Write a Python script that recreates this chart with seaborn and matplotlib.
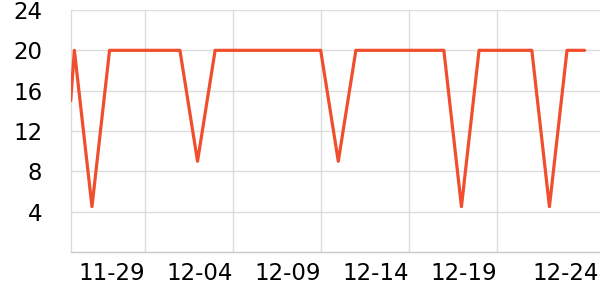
import matplotlib
matplotlib.use("Agg")
import matplotlib.pyplot as plt
import matplotlib.transforms as mtransforms
import pandas as pd
import seaborn as sns

# ---- data ----
timestamps = ["2023-11-24 19:00"] + [d.strftime("%Y-%m-%d 00:00") for d in pd.date_range("2023-11-25", "2023-12-24", freq="D")]
values = [15, 20, 4.5, 20, 20, 20, 20, 20, 9, 20, 20, 20, 20, 20, 20, 20, 9, 20,
          20, 20, 20, 20, 20, 4.5, 20, 20, 20, 20, 4.5, 20, 20]
tick_dates = ["2023-11-29", "2023-12-04", "2023-12-09", "2023-12-14", "2023-12-19", "2023-12-24"]
tick_labels = ["11-29", "12-04", "12-09", "12-14", "12-19", "12-24"]
y_ticks = [4, 8, 12, 16, 20, 24]
x_end = "2023-12-24 21:00"

df = pd.DataFrame({"time": pd.to_datetime(timestamps, format="%Y-%m-%d %H:%M"), "value": values})

sns.set_style("white")
plt.rcParams["font.family"] = ["DejaVu Sans"]

fig = plt.figure(figsize=(6, 3), dpi=100)
ax = fig.add_axes([70.7 / 600, 48 / 300, (600 - 70.7) / 600, (252 - 10) / 300])

sns.lineplot(data=df, x="time", y="value", ax=ax, color="#f04e2d", linewidth=2.3, zorder=3)

ax.set_xlim(df["time"].iloc[0], pd.Timestamp(x_end))
ax.set_ylim(0, 24)
ax.set_yticks(y_ticks)
ax.set_xticks(pd.to_datetime(tick_dates))
ax.set_xticklabels(tick_labels, ha="right")
ax.set_xlabel("")
ax.set_ylabel("")

ax.grid(True, color="#dcdcdc", linewidth=1.0)
ax.set_axisbelow(True)
for side in ["top", "right"]:
    ax.spines[side].set_visible(False)
ax.spines["left"].set_color("#dcdcdc")
ax.spines["bottom"].set_color("#c8c8c8")
ax.spines["left"].set_linewidth(1.0)
ax.spines["bottom"].set_linewidth(1.0)

ax.tick_params(axis="y", length=0, pad=20.5, labelsize=16.5, labelcolor="black")
ax.tick_params(axis="x", length=2.5, width=1, color="#c8c8c8", pad=5, labelsize=16.5, labelcolor="black")

# last tick: no gridline/tick mark, label pushed to canvas edge
last = ax.xaxis.get_major_ticks()[-1]
last.gridline.set_visible(False)
last.tick1line.set_visible(False)
offset = mtransforms.ScaledTranslation(14 / 100, 0, fig.dpi_scale_trans)
last.label1.set_transform(last.label1.get_transform() + offset)

fig.savefig("out.png", dpi=100)
